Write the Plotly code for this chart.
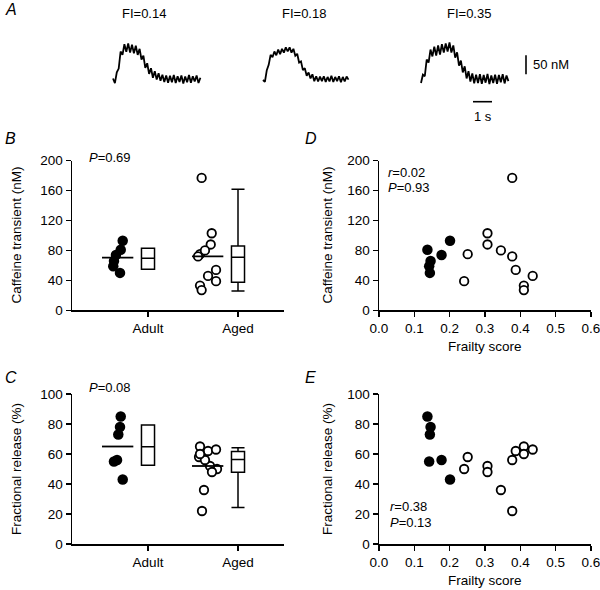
import numpy as np
import plotly.graph_objects as go

W, H = 600, 590
FONT = "Liberation Sans, Arial, Helvetica, sans-serif"

# ---------------- Panel A: caffeine-evoked Ca2+ traces (nM above baseline, 0.1 s steps)
TRACE_DT = 0.1
TRACE_LABELS = ["FI=0.14", "FI=0.18", "FI=0.35"]
trace1_nm = [4, -8, 20, 30, 75, 66, 94, 74, 96, 72, 93, 70, 90, 66, 82, 54, 64, 32, 44, 16,
             31, 6, 23, 1, 18, -2, 14, -5, 12, -7, 11, -6, 13, -8, 10, -5, 12, -9, 9, -6,
             13, -7, 10, -4, 12, -8, 6]
trace2_nm = [0, -5, 26, 40, 66, 60, 75, 65, 80, 68, 82, 72, 86, 75, 86, 72, 82, 64, 69, 46,
             49, 26, 31, 11, 20, 4, 15, -3, 10, -4, 9, -3, 10, -5, 8, -4, 11, -5, 8, -3,
             10, -6, 8, -4, 9, 1]
trace3_nm = [-8, 14, 10, 54, 46, 80, 62, 88, 64, 91, 67, 94, 72, 96, 75, 99, 72, 91, 59, 73,
             38, 51, 20, 36, 4, 23, -4, 17, -9, 14, -8, 15, -10, 13, -7, 16, -11, 12, -8, 14,
             -10, 13, -6, 15, -9, 12, -3]
SCALE_NM = 50
SCALE_S = 1

# ---------------- Panels B-E data (per animal)
group_labels = ["Adult", "Aged"]
adult_frailty = [0.137, 0.146, 0.144, 0.142, 0.177, 0.201]
adult_caffeine = [81, 66, 50, 59, 74, 93]
adult_fr = [85, 78, 73, 55, 56, 43]
aged_frailty = [0.241, 0.251, 0.307, 0.307, 0.345, 0.377, 0.377, 0.387, 0.41, 0.41, 0.435]
aged_caffeine = [39, 75, 103, 88, 80, 177, 72, 54, 33, 27, 46]
aged_fr = [50, 58, 52, 48, 36, 56, 22, 62, 65, 60, 63]

# horizontal scatter of dots in B and C (category units)
adult_caff_jit = [-0.303, -0.378, -0.311, -0.386, -0.356, -0.281]
aged_caff_jit = [-0.244, -0.422, -0.292, -0.303, -0.367, -0.404, -0.444, -0.244, -0.422, -0.404, -0.333]
adult_fr_jit = [-0.303, -0.311, -0.33, -0.378, -0.344, -0.281]
aged_fr_jit = [-0.233, -0.433, -0.311, -0.289, -0.378, -0.367, -0.4, -0.333, -0.422, -0.422, -0.244]

# box summaries [Adult, Aged]
caff_low = [55, 25.8]
caff_q1 = [55, 37.5]
caff_med = [69.5, 70.8]
caff_q3 = [83, 86]
caff_high = [83, 161.7]
fr_low = [52.5, 24.4]
fr_q1 = [52.5, 47.8]
fr_med = [64.8, 56.4]
fr_q3 = [79.3, 61.6]
fr_high = [79.3, 64.2]

stats_text = {"B": ["<i>P</i>=0.69"], "C": ["<i>P</i>=0.08"],
              "D": ["<i>r</i>=0.02", "<i>P</i>=0.93"], "E": ["<i>r</i>=0.38", "<i>P</i>=0.13"]}


def pxx(px):
    return px / W


def pxy(py):
    return 1 - py / H


fig = go.Figure()

# ---- Panel A
PX_PER_S = 19.0
PX_PER_50 = 19.0
nm_per_px = SCALE_NM / PX_PER_50
base_py = 80.0
trace_start_px = [113, 263, 421]
for arr, sp in zip([trace1_nm, trace2_nm, trace3_nm], trace_start_px):
    t = sp / PX_PER_S + np.arange(len(arr)) * TRACE_DT
    fig.add_trace(go.Scatter(x=t, y=arr, mode="lines", line=dict(color="black", width=1.8),
                             xaxis="x", yaxis="y", showlegend=False, hoverinfo="skip"))
# scale bars
vb_x = 526 / PX_PER_S
vb_y0 = (base_py - 74.3) * nm_per_px
fig.add_trace(go.Scatter(x=[vb_x, vb_x], y=[vb_y0, vb_y0 + SCALE_NM], mode="lines",
                         line=dict(color="black", width=1.6), xaxis="x", yaxis="y",
                         showlegend=False, hoverinfo="skip"))
hb_x0 = 473 / PX_PER_S
hb_y = (base_py - 101.7) * nm_per_px
fig.add_trace(go.Scatter(x=[hb_x0, hb_x0 + SCALE_S], y=[hb_y, hb_y], mode="lines",
                         line=dict(color="black", width=1.6), xaxis="x", yaxis="y",
                         showlegend=False, hoverinfo="skip"))

# ---- Panels B & C
FILLED = dict(color="black", size=10.5, line=dict(width=0))
OPEN = dict(color="white", size=8.5, line=dict(color="black", width=1.8))
MEAN_OFF = -0.337
MEAN_HALF = 0.174
BOX_W = 0.145

for (xa, ya, a_vals, g_vals, a_jit, g_jit, lo, q1, med, q3, hi) in [
    ("x2", "y2", adult_caffeine, aged_caffeine, adult_caff_jit, aged_caff_jit,
     caff_low, caff_q1, caff_med, caff_q3, caff_high),
    ("x3", "y3", adult_fr, aged_fr, adult_fr_jit, aged_fr_jit,
     fr_low, fr_q1, fr_med, fr_q3, fr_high)]:
    fig.add_trace(go.Box(x=[1, 2], q1=q1, median=med, q3=q3, lowerfence=lo, upperfence=hi,
                         width=BOX_W, whiskerwidth=1, fillcolor="white",
                         line=dict(color="black", width=1.5), boxpoints=False,
                         xaxis=xa, yaxis=ya, showlegend=False, hoverinfo="skip"))
    fig.add_trace(go.Scatter(x=1 + np.array(a_jit), y=a_vals, mode="markers", marker=FILLED,
                             xaxis=xa, yaxis=ya, showlegend=False, cliponaxis=False))
    fig.add_trace(go.Scatter(x=2 + np.array(g_jit), y=g_vals, mode="markers", marker=OPEN,
                             xaxis=xa, yaxis=ya, showlegend=False, cliponaxis=False))
    for gx, vals in [(1, a_vals), (2, g_vals)]:
        m = float(np.mean(vals))
        c = gx + MEAN_OFF
        fig.add_trace(go.Scatter(x=[c - MEAN_HALF, c + MEAN_HALF], y=[m, m], mode="lines",
                                 line=dict(color="black", width=1.8), xaxis=xa, yaxis=ya,
                                 showlegend=False, hoverinfo="skip"))

# ---- Panels D & E
for xa, ya, a_vals, g_vals in [("x4", "y4", adult_caffeine, aged_caffeine),
                               ("x5", "y5", adult_fr, aged_fr)]:
    fig.add_trace(go.Scatter(x=adult_frailty, y=a_vals, mode="markers", marker=FILLED,
                             xaxis=xa, yaxis=ya, showlegend=False, cliponaxis=False))
    fig.add_trace(go.Scatter(x=aged_frailty, y=g_vals, mode="markers", marker=OPEN,
                             xaxis=xa, yaxis=ya, showlegend=False, cliponaxis=False))

# ---- Axes
TICK_FS = 13.5
axis_style = dict(showline=True, linecolor="black", linewidth=1.5, ticks="outside", ticklen=5,
                  tickwidth=1.5, tickcolor="black", showgrid=False, zeroline=False,
                  automargin=False, ticklabeloverflow="allow",
                  tickfont=dict(family=FONT, size=TICK_FS, color="black"), fixedrange=True)

top_b, bot_b = 160.7, 310.3
top_c, bot_c = 394.0, 544.0
left_l, right_l = 72.0, 284.0
left_r, right_r = 379.0, 591.0

# category axis: x=1 at 148 px, x=2 at 238 px
cat_lo = 1 - (148 - left_l) / 90
cat_hi = 2 + (right_l - 238) / 90

layout = dict(
    template="none",
    width=W, height=H, margin=dict(l=0, r=0, t=0, b=0, autoexpand=False),
    paper_bgcolor="white", plot_bgcolor="white",
    font=dict(family=FONT, size=13, color="black"),
    xaxis=dict(domain=[0, 1], range=[0, W / PX_PER_S], visible=False, fixedrange=True,
               automargin=False),
    yaxis=dict(domain=[pxy(130), 1], range=[(base_py - 130) * nm_per_px, base_py * nm_per_px],
               visible=False, fixedrange=True, automargin=False),
    xaxis2=dict(axis_style, domain=[pxx(left_l), pxx(right_l)], range=[cat_lo, cat_hi],
                tickvals=[1, 2], ticktext=group_labels, anchor="y2"),
    yaxis2=dict(axis_style, domain=[pxy(bot_b), pxy(top_b)], range=[0, 200],
                tickvals=[0, 40, 80, 120, 160, 200], anchor="x2"),
    xaxis3=dict(axis_style, domain=[pxx(left_l), pxx(right_l)], range=[cat_lo, cat_hi],
                tickvals=[1, 2], ticktext=group_labels, anchor="y3"),
    yaxis3=dict(axis_style, domain=[pxy(bot_c), pxy(top_c)], range=[0, 100],
                tickvals=[0, 20, 40, 60, 80, 100], anchor="x3"),
    xaxis4=dict(axis_style, domain=[pxx(left_r), pxx(right_r)], range=[0, 0.6],
                tickvals=[0, 0.1, 0.2, 0.3, 0.4, 0.5, 0.6], tickformat=".1f", anchor="y4"),
    yaxis4=dict(axis_style, domain=[pxy(bot_b), pxy(top_b)], range=[0, 200],
                tickvals=[0, 40, 80, 120, 160, 200], anchor="x4"),
    xaxis5=dict(axis_style, domain=[pxx(left_r), pxx(right_r)], range=[0, 0.6],
                tickvals=[0, 0.1, 0.2, 0.3, 0.4, 0.5, 0.6], tickformat=".1f", anchor="y5"),
    yaxis5=dict(axis_style, domain=[pxy(bot_c), pxy(top_c)], range=[0, 100],
                tickvals=[0, 20, 40, 60, 80, 100], anchor="x5"),
)
fig.update_layout(**layout)

ann = []


def add_text(text, px, py, size=13.5, xanchor="center", angle=0):
    ann.append(dict(text=text, x=pxx(px), y=pxy(py), xref="paper", yref="paper",
                    xanchor=xanchor, yanchor="middle", showarrow=False, textangle=angle,
                    font=dict(family=FONT, size=size, color="black")))


# panel letters
for letter, (lx, ly) in {"A": (3, 10), "B": (3, 138), "C": (3, 377), "D": (303, 138),
                         "E": (303, 377.5)}.items():
    add_text(f"<i>{letter}</i>", lx, ly, size=16, xanchor="left")

# panel A labels
for lab, cx in zip(TRACE_LABELS, [144, 304, 469]):
    add_text(lab, cx, 14, size=13)
add_text("50 nM", 531, 64.7, size=13, xanchor="left")
add_text("1 s", 482.7, 116, size=13)

# axis titles
add_text("Caffeine transient (nM)", 16, (top_b + bot_b) / 2, angle=-90)
add_text("Caffeine transient (nM)", 327, (top_b + bot_b) / 2, angle=-90)
add_text("Fractional release (%)", 16, (top_c + bot_c) / 2, angle=-90)
add_text("Fractional release (%)", 327, (top_c + bot_c) / 2, angle=-90)
add_text("Frailty score", (left_r + right_r) / 2, 346)
add_text("Frailty score", (left_r + right_r) / 2, 580)

# statistics
add_text(stats_text["B"][0], 87, 157, size=13, xanchor="left")
add_text(stats_text["C"][0], 87, 387, size=13, xanchor="left")
add_text(stats_text["D"][0], 386, 172, size=13, xanchor="left")
add_text(stats_text["D"][1], 386, 187, size=13, xanchor="left")
add_text(stats_text["E"][0], 388, 506, size=13, xanchor="left")
add_text(stats_text["E"][1], 388, 522, size=13, xanchor="left")

fig.update_layout(annotations=ann)
fig.write_html("out.html", config={"displayModeBar": False, "staticPlot": True},
               post_script="document.body.style.margin='0';")
